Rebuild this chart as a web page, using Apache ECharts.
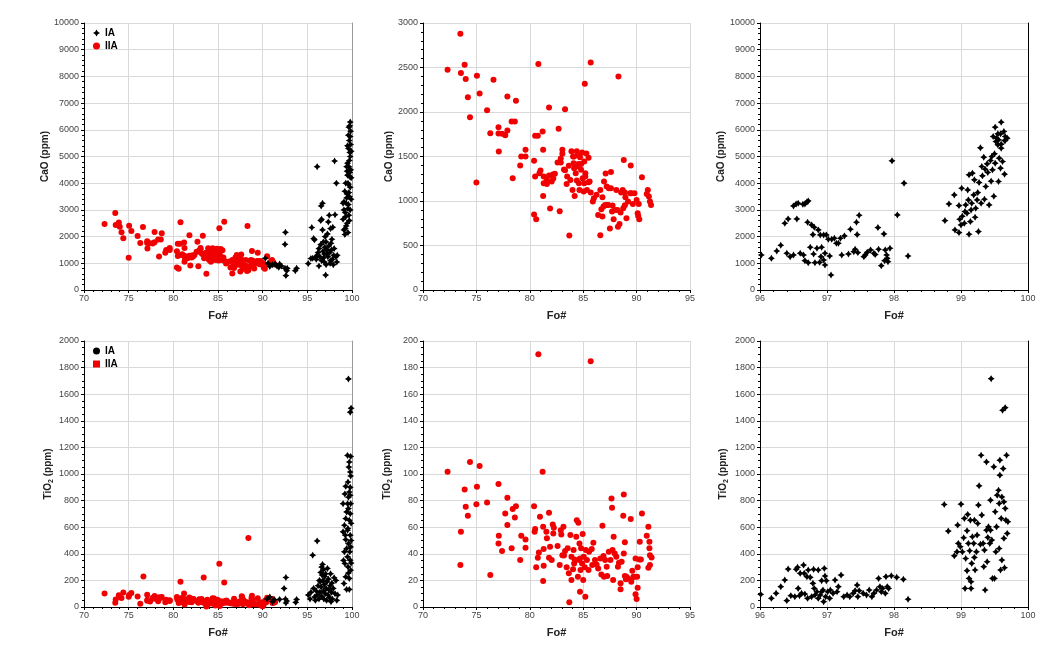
<!DOCTYPE html>
<html><head><meta charset="utf-8">
<script src="https://cdn.jsdelivr.net/npm/echarts@6/dist/echarts.min.js"></script>
<style>html,body{margin:0;padding:0;background:#fff}#c{width:1059px;height:653px}</style>
</head><body><div id="c"></div><script>
// ---------- DATA (Fo#, ppm) ----------
const caoIIA = [[72.3,2475],[73.5,2880],[73.55,2437],[73.9,2530],[74.0,2370],[74.2,2167],[74.4,1942],[75.05,2407],[75.0,1207],[75.3,2208],[76.0,2021],[76.3,1762],[76.6,2362],[77.07,1830],[77.1,1556],[77.07,1759],[77.4,1755],[77.7,1740],[77.9,1792],[77.9,2175],[78.3,1894],[78.6,1894],[78.4,1256],[78.7,2126],[79.1,1399],[79.2,1500],[79.6,1575],[79.6,1500],[80.4,1451],[80.5,1275],[80.4,847],[80.6,795],[80.5,1732],[80.75,1732],[80.8,2539],[80.9,1312],[81.0,1342],[81.2,1781],[81.25,1575],[81.3,1275],[81.25,1057],[81.3,1200],[81.6,1237],[81.6,1192],[81.8,2051],[81.8,1286],[81.9,915],[82.05,1219],[82.15,1297],[82.2,1252],[82.35,1305],[82.6,1432],[82.7,1811],[82.8,885],[82.9,1432],[82.9,1477],[83.05,1575],[83.05,1530],[83.2,1354],[83.3,1346],[83.3,2032],[83.45,1192],[83.5,1275],[83.65,1395],[83.7,611],[83.8,1237],[83.9,1560],[84.05,1500],[84.1,1425],[84.15,1369],[84.2,1057],[84.3,1312],[84.4,1230],[84.4,1560],[84.55,1417],[84.6,1200],[84.65,1125],[84.7,1492],[84.8,1350],[84.9,1545],[84.95,1256],[85.05,1106],[85.1,1444],[85.2,1275],[85.3,1534],[85.35,1125],[85.15,2317],[85.5,1485],[85.5,1211],[85.7,2557],[85.7,1095],[85.9,993],[86.0,1031],[86.25,1069],[86.4,844],[86.6,615],[86.6,1125],[86.7,907],[86.8,825],[86.8,1042],[86.95,1219],[87.1,1309],[87.2,1162],[87.25,956],[87.4,1144],[87.5,690],[87.6,1144],[87.6,1327],[87.7,881],[87.75,949],[87.85,795],[87.95,900],[88.1,1125],[88.25,712],[88.3,2400],[88.4,742],[88.5,870],[88.55,1095],[88.8,1462],[88.9,952],[88.95,1042],[89.05,806],[89.2,993],[89.45,1399],[89.5,1087],[89.65,967],[89.8,1087],[90.0,1012],[90.1,862],[90.15,832],[90.25,795],[90.5,1267],[90.95,1080],[91.05,1125],[91.15,1050],[91.25,993],[91.35,956],[90.2,967],[89.4,1087],[88.7,1125],[88.2,900],[86.9,937],[87.05,956],[87.35,956],[88.75,918],[88.9,1095],[84.6,1518],[84.0,1125],[85.2,1312],[84.8,1417],[84.15,1500],[84.4,1387],[85.1,1200],[85.6,1219]];

const caoIALeft = [[90.3,1190],[90.6,1000],[90.8,880],[91.1,950],[91.4,975],[91.6,900],[91.8,850],[91.9,975],[92.1,900],[92.5,1710],[92.55,2160],[92.5,810],[92.6,540],[92.7,725],[92.75,810],[93.65,725],[93.8,810],
[95.1,990],[95.4,1180],[95.5,2340],[95.6,1190],[95.7,1930],[95.8,1880],[95.9,1220],[96.0,1150],[96.1,4620],[96.1,1300],[96.2,1400],[96.3,1550],[96.3,900],[96.4,1250],[96.5,1700],[96.5,2600],[96.55,3150],[96.6,2650],[96.6,1100],[96.7,3250],[96.7,2250],[96.75,1450],[96.8,1800],[96.8,1200],[96.9,1050],[96.9,1350],[96.95,1600],[97.0,2000],[97.05,560],[97.1,1800],[97.1,950],[97.15,1350],[97.2,1500],[97.25,2100],[97.3,1250],[97.35,2550],[97.4,1650],[97.45,2800],[97.5,1400],[97.55,1000],[97.6,2300],[97.6,1100],[97.65,1750],[97.7,1500],[97.75,1900],[97.8,1150],[97.85,2350],[97.9,950],[97.95,1300],[98.0,1550],[98.05,4830],[98.1,2820],[98.2,1250],[98.25,4000],[98.3,1050],[98.35,1300],
[99.8,6290],[99.75,6150],[99.65,6100],[99.85,5950],[99.8,5750],[99.7,5600],[99.85,5450],[99.6,5300],[99.75,5150],[99.8,5000],[99.7,4850],[99.5,4750],[99.4,4620],[99.65,4620],[99.85,4500],[99.5,4300],[99.75,4250],[99.3,4000],[99.6,3950],[99.8,3850],[99.2,3700],[99.45,3600],[99.7,3500],[99.1,3300],[99.35,3250],[99.6,3200],[99.0,3250],[99.1,3000],[99.55,3050],[99.8,3000],[99.0,2650],[99.3,2750],[99.7,2600],[99.1,2250],[99.35,2400],[99.2,2080],[99.55,2150],[99.25,2300],[99.45,2500],[99.65,2800],[99.9,4200],[99.9,3400],[99.9,5200],[99.55,4000],[99.4,3450],[99.25,2900],[99.5,5400],[99.6,5800],[99.45,4450],[99.75,4400],[99.65,3650]];

const caoIARight = [[96.02,1312],[96.17,1187],[96.25,1462],[96.31,1675],[96.37,2500],[96.42,2662],[96.4,1375],[96.45,1250],[96.5,1312],[96.5,3150],[96.54,3225],[96.57,3250],[96.55,2662],[96.6,1375],[96.64,3212],[96.67,3225],[96.7,3300],[96.72,3337],[96.65,1312],[96.67,1100],[96.71,2537],[96.72,1025],[96.75,1600],[96.77,2437],[96.79,2075],[96.8,1350],[96.81,2350],[96.82,1025],[96.85,1562],[96.87,2250],[96.89,1037],[96.9,2062],[96.92,1600],[96.91,1250],[96.95,2062],[96.95,1125],[96.97,937],[96.97,1375],[96.99,2062],[97.02,1900],[97.04,1275],[97.06,562],[97.07,1900],[97.11,1937],[97.14,1750],[97.17,1750],[97.2,1937],[97.22,1312],[97.26,2025],[97.32,1350],[97.35,2275],[97.4,1437],[97.42,1525],[97.44,2537],[97.45,2075],[97.46,1400],[97.48,2800],[97.55,1250],[97.57,1312],[97.6,1412],[97.65,1500],[97.7,1375],[97.72,1325],[97.76,2337],[97.77,1525],[97.81,912],[97.85,2100],[97.86,1100],[97.87,1500],[97.89,1312],[97.9,1187],[97.91,1062],[97.94,1562],[97.97,4837],[98.05,2812],[98.15,4000],[98.21,1275],
[98.76,2600],[98.82,3225],[98.9,3562],[98.91,2250],[98.97,2150],[98.97,3162],[99.01,3812],[98.98,2650],[99.0,2437],[99.02,2762],[99.05,2500],[99.06,2937],[99.07,3187],[99.09,2875],[99.1,3750],[99.11,3375],[99.12,2087],[99.12,4312],[99.14,2562],[99.15,3000],[99.16,3250],[99.17,4375],[99.19,3562],[99.2,4125],[99.21,2725],[99.22,3062],[99.24,3375],[99.25,3650],[99.26,2187],[99.27,4025],[99.29,5325],[99.3,3250],[99.31,4625],[99.32,4275],[99.34,4975],[99.35,3400],[99.36,4525],[99.37,3875],[99.39,4725],[99.4,4400],[99.42,3187],[99.44,4850],[99.45,4075],[99.46,5000],[99.47,4500],[99.49,3512],[99.5,5100],[99.51,4750],[99.52,5562],[99.55,5437],[99.56,4062],[99.57,4937],[99.59,4562],[99.6,5312],[99.62,4812],[99.65,4337],[99.66,5600],[99.51,6100],[99.6,6287],[99.55,5850],[99.59,5850],[99.64,5937],[99.48,5750],[99.56,5625],[99.65,5600],[99.69,5687],[99.6,5462],[99.66,5750],[99.53,5687]];

const tioIIA = [[72.3,101.6],[73.5,31.5],[73.55,56.6],[73.9,88.4],[74.0,75.3],[74.2,68.6],[74.4,109.1],[75.05,90.4],[75.0,77.3],[75.3,106.1],[76.0,78.6],[76.3,24.0],[77.07,92.4],[77.1,53.6],[77.07,47.8],[77.4,42.1],[77.7,70.3],[77.9,61.6],[77.9,82.1],[78.3,44.1],[78.4,73.6],[78.6,67.3],[78.7,75.8],[79.1,35.3],[79.2,53.6],[79.6,50.8],[79.6,44.6],[80.4,75.8],[80.5,58.6],[80.45,56.6],[80.6,29.8],[80.75,37.0],[80.8,190],[80.85,41.0],[80.95,67.8],[81.2,101.6],[81.25,60.3],[81.3,31.0],[81.25,19.5],[81.3,43.6],[81.55,56.6],[81.6,51.6],[81.8,70.8],[81.8,37.0],[81.9,45.3],[82.05,35.3],[82.15,62.1],[82.2,55.3],[82.25,59.6],[82.6,45.8],[82.8,31.5],[82.9,57.8],[82.95,54.6],[83.05,39.0],[83.15,60.3],[83.2,38.8],[83.3,42.1],[83.45,29.8],[83.55,44.1],[83.65,25.3],[83.7,3.5],[83.8,54.1],[83.9,20.3],[83.9,37.8],[84.05,28.3],[84.1,42.8],[84.15,32.8],[84.2,35.8],[84.35,52.8],[84.4,65.3],[84.5,22.8],[84.55,63.3],[84.6,35.3],[84.65,47.8],[84.7,11.5],[84.7,36.5],[84.75,27.8],[84.8,44.1],[84.9,32.8],[84.95,54.8],[85.0,20.3],[85.05,37.8],[85.15,29.8],[85.2,7.8],[85.25,42.8],[85.35,35.3],[85.5,27.8],[85.55,41.6],[85.7,184.7],[85.8,43.6],[85.85,31.5],[85.95,48.3],[86.1,35.3],[86.25,32.0],[86.4,29.0],[86.6,36.5],[86.7,24.5],[86.8,61.1],[86.9,38.3],[86.95,22.8],[87.05,35.3],[87.2,30.3],[87.25,23.3],[87.4,41.6],[87.55,35.3],[87.65,81.6],[87.7,74.6],[87.75,42.8],[87.8,20.3],[87.85,52.8],[87.95,40.3],[88.1,37.8],[88.25,30.3],[88.35,33.3],[88.5,17.8],[88.5,13.3],[88.6,34.0],[88.75,68.6],[88.8,84.6],[88.8,40.3],[88.9,48.6],[88.9,23.3],[89.0,20.8],[89.05,22.8],[89.2,21.5],[89.45,66.1],[89.5,19.0],[89.6,27.3],[89.7,22.8],[89.8,22.8],[89.9,9.5],[89.9,36.5],[90.0,6.0],[90.05,22.8],[90.1,14.5],[90.1,29.8],[90.25,35.8],[90.3,49.1],[90.4,35.8],[90.5,70.3],[90.95,53.6],[91.1,60.3],[91.1,29.5],[91.2,49.1],[91.2,44.1],[91.25,31.5],[91.25,39.0],[91.4,37.3],[76.65,230],[83.4,222],[85.15,325],[88.4,518]];

const tioIALeft = [[90.5,60],[90.8,75],[91.1,40],[91.3,55],[91.9,57],[92.4,140],[92.6,222],[92.55,60],[92.7,45],[92.6,30],[93.7,35],[93.8,57],
[95.1,90],[95.3,60],[95.4,110],[95.6,390],[95.7,140],[95.8,75],[95.9,50],[96.0,120],[96.1,497],[96.1,90],[96.2,160],[96.3,60],[96.35,200],[96.4,110],[96.45,190],[96.5,260],[96.55,150],[96.6,300],[96.6,80],[96.65,240],[96.7,320],[96.75,200],[96.8,280],[96.8,120],[96.85,60],[96.9,170],[96.95,230],[97.0,100],[97.05,250],[97.1,140],[97.15,50],[97.2,190],[97.25,290],[97.3,90],[97.35,210],[97.4,130],[97.5,70],[97.55,160],[97.6,250],[97.65,40],[97.7,110],[97.75,180],[97.8,60],[97.9,140],[98.0,220],[98.1,100],[98.2,200],[98.3,50],[98.4,90],
[99.6,1715],[99.9,1495],[99.8,1465],[99.5,1140],[99.85,1132],[99.7,1090],[99.65,1052],[99.8,1015],[99.85,985],[99.3,907],[99.7,865],[99.8,840],[99.0,777],[99.5,777],[99.85,777],[99.6,740],[99.8,702],[99.3,665],[99.7,652],[99.0,565],[99.5,577],[99.8,540],[99.3,507],[99.6,477],[99.85,452],[99.15,415],[99.5,377],[99.8,352],[99.2,327],[99.55,302],[99.85,277],[99.3,227],[99.7,215],[99.4,132],[99.7,132],[99.1,177],[99.55,590],[99.15,615],[99.9,630],[99.4,715],[99.6,825],[99.2,850],[99.55,940],[99.8,900],[99.4,440],[99.9,500],[99.05,350],[99.6,255],[99.9,330],[99.25,540],[99.75,415]];

const tioIARight = [[96.01,95],[96.17,65],[96.24,103],[96.31,153],[96.37,203],[96.4,48],[96.42,285],[96.46,85],[96.52,78],[96.54,283],[96.56,298],[96.57,140],[96.59,85],[96.6,253],[96.62,103],[96.65,315],[96.66,253],[96.67,98],[96.7,228],[96.71,65],[96.72,278],[96.75,223],[96.77,78],[96.79,178],[96.8,283],[96.81,140],[96.82,90],[96.85,115],[96.87,278],[96.87,65],[96.9,90],[96.92,115],[96.92,198],[96.94,128],[96.95,40],[96.96,290],[96.97,233],[96.98,78],[96.99,198],[97.01,115],[97.04,65],[97.05,128],[97.09,103],[97.12,203],[97.15,115],[97.17,153],[97.21,240],[97.25,78],[97.3,90],[97.34,78],[97.39,103],[97.42,123],[97.45,165],[97.46,78],[97.48,123],[97.54,103],[97.59,90],[97.63,128],[97.67,78],[97.7,103],[97.74,128],[97.77,215],[97.79,153],[97.81,115],[97.83,140],[97.87,103],[97.88,228],[97.9,153],[97.92,140],[97.96,235],[98.04,223],[98.14,208],[98.21,58],
[98.75,771],[98.81,571],[98.9,385],[98.94,415],[98.95,616],[98.96,478],[98.99,453],[99.0,773],[99.02,415],[99.04,521],[99.05,666],[99.06,140],[99.07,365],[99.09,573],[99.09,273],[99.1,696],[99.11,478],[99.12,215],[99.13,423],[99.14,653],[99.15,140],[99.15,190],[99.16,328],[99.17,528],[99.19,478],[99.2,653],[99.2,373],[99.21,278],[99.23,415],[99.24,541],[99.25,628],[99.26,766],[99.27,911],[99.29,471],[99.3,1141],[99.31,691],[99.33,478],[99.34,303],[99.35,428],[99.36,128],[99.38,1091],[99.38,578],[99.39,340],[99.4,523],[99.41,603],[99.43,478],[99.44,578],[99.45,1717],[99.46,503],[99.47,215],[99.49,1054],[99.5,215],[99.51,716],[99.52,415],[99.53,603],[99.54,841],[99.56,878],[99.57,778],[99.58,1104],[99.58,991],[99.59,278],[99.6,666],[99.61,353],[99.62,1479],[99.63,1041],[99.64,791],[99.64,516],[99.65,295],[99.66,1499],[99.66,741],[99.67,653],[99.68,1141],[99.69,553],[99.7,641],[99.61,828],[99.57,440],[99.44,803]];

// ---------- STYLE ----------
const FONT = 'Liberation Sans, Arial, sans-serif';
const RED = '#f00000';
const BLACK = '#000000';
const STAR = 'path://M0,-10 L3.8,-3.8 L10,0 L3.8,3.8 L0,10 L-3.8,3.8 L-10,0 L-3.8,-3.8 Z';
const plain = function (v) { return String(v); };

const grids = [
  {left:84, top:23, width:268, height:267},
  {left:423, top:23, width:267, height:267},
  {left:760, top:23, width:268, height:267},
  {left:84, top:341, width:268, height:266},
  {left:423, top:341, width:267, height:266},
  {left:760, top:341, width:268, height:266}
];

function xAx(gi, min, max, interval) {
  return {
    gridIndex: gi, type: 'value', min: min, max: max, interval: interval,
    name: 'Fo#', nameLocation: 'middle', nameGap: 20,
    nameTextStyle: {fontFamily: FONT, fontWeight: 'bold', fontSize: 11, color: '#222'},
    axisLine: {show: true, onZero: false, lineStyle: {color: '#000', width: 1}},
    axisTick: {show: true, length: 3, lineStyle: {color: '#000'}},
    minorTick: {show: true, splitNumber: 5, length: 2, lineStyle: {color: '#000'}},
    axisLabel: {fontFamily: FONT, fontSize: 9, color: '#444', margin: 4, formatter: plain},
    splitLine: {show: true, lineStyle: {color: '#d9d9d9', width: 1}}
  };
}
function yAx(gi, max, interval, minorSplit, name, gap) {
  return {
    gridIndex: gi, type: 'value', min: 0, max: max, interval: interval,
    name: name, nameLocation: 'middle', nameGap: gap,
    nameTextStyle: {fontFamily: FONT, fontWeight: 'bold', fontSize: 10, color: '#222',
      rich: {s: {fontFamily: FONT, fontWeight: 'bold', fontSize: 7, color: '#222', padding: [6, 0, 0, 0]}}},
    axisLine: {show: true, onZero: false, lineStyle: {color: '#000', width: 1}},
    axisTick: {show: true, length: 3, lineStyle: {color: '#000'}},
    minorTick: {show: true, splitNumber: minorSplit, length: 2, lineStyle: {color: '#000'}},
    axisLabel: {fontFamily: FONT, fontSize: 9, color: '#444', margin: 5, formatter: plain},
    splitLine: {show: true, lineStyle: {color: '#d9d9d9', width: 1}}
  };
}
function border(gi, color) {
  return {gridIndex: gi, type: 'value', position: 'right', min: 0, max: 1,
    axisLine: {show: true, lineStyle: {color: color, width: 1}}, axisTick: {show: false},
    axisLabel: {show: false}, splitLine: {show: false}};
}

const CAO = 'CaO (ppm)';
const TIO = 'TiO{s|2} (ppm)';

const xAxes = [xAx(0,70,100,5), xAx(1,70,95,5), xAx(2,96,100,1), xAx(3,70,100,5), xAx(4,70,95,5), xAx(5,96,100,1)];
const yAxes = [
  yAx(0,10000,1000,5,CAO,29), yAx(1,3000,500,5,CAO,29), yAx(2,10000,1000,5,CAO,30),
  yAx(3,2000,200,4,TIO,29), yAx(4,200,20,4,TIO,29), yAx(5,2000,200,4,TIO,30),
  border(0,'#999'), border(2,'#000'), border(3,'#999'), border(5,'#000')
];

function sIA(gi, data) {
  return {name: 'IA', type: 'scatter', xAxisIndex: gi, yAxisIndex: gi, data: data, clip: true,
    symbol: STAR, symbolSize: 7, itemStyle: {color: BLACK, opacity: 1}};
}
function sIIA(gi, data) {
  return {name: 'IIA', type: 'scatter', xAxisIndex: gi, yAxisIndex: gi, data: data, clip: true,
    symbol: 'circle', symbolSize: 6, itemStyle: {color: RED, opacity: 1}};
}

const legendBase = {orient: 'vertical', left: 93, itemWidth: 7, itemHeight: 7, itemGap: 3, padding: 0,
  textStyle: {fontFamily: FONT, fontSize: 10, fontWeight: 'bold', color: '#000'}, selectedMode: false};

const option = {
  animation: false,
  backgroundColor: '#fff',
  grid: grids,
  xAxis: xAxes,
  yAxis: yAxes,
  legend: [
    Object.assign({}, legendBase, {top: 28, data: [{name: 'IA', icon: STAR}, {name: 'IIA', icon: 'circle'}]}),
    Object.assign({}, legendBase, {top: 346, data: [{name: 'IA', icon: 'circle', itemStyle: {color: BLACK}}, {name: 'IIA', icon: 'rect'}]})
  ],
  series: [
    sIIA(0, caoIIA), sIA(0, caoIALeft),
    sIIA(1, caoIIA),
    sIA(2, caoIARight),
    sIIA(3, tioIIA), sIA(3, tioIALeft),
    sIIA(4, tioIIA),
    sIA(5, tioIARight)
  ]
};

const chart = echarts.init(document.getElementById('c'), null, {renderer: 'canvas'});
chart.setOption(option);
</script></body></html>
